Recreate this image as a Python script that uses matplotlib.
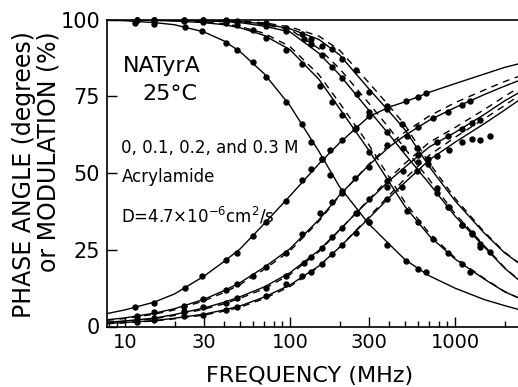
import numpy as np
import matplotlib
matplotlib.use("Agg")
import matplotlib.pyplot as plt

# ---- data ----
# frequency grid (MHz) for the fitted curves
f_curve = [7.8, 10, 15, 20, 30, 40, 50, 70, 100, 150, 200, 300, 400, 500, 700, 1000, 1500, 2000, 2410]

# phase (degrees) – solid fits
P0 = [4.2, 5.4, 7.9, 10.6, 16.3, 21.2, 25.3, 33.5, 42.5, 53.0, 59.8, 68.3, 71.5, 73.2, 76.3, 79.1, 82.2, 84.4, 85.5]
P1 = [2.2, 2.8, 4.3, 5.8, 8.8, 11.7, 14.3, 19.3, 25.3, 34.8, 42.8, 52.5, 58.5, 62.3, 67.2, 71.3, 75.5, 78.3, 80.0]
P2 = [1.4, 1.8, 2.7, 3.9, 6.0, 7.9, 9.7, 12.9, 17.5, 24.8, 31.5, 41.0, 47.5, 52.0, 58.5, 63.2, 69.0, 73.5, 76.0]
P3 = [1.0, 1.3, 1.9, 2.7, 4.0, 5.4, 6.7, 9.6, 13.5, 19.7, 25.8, 35.2, 42.0, 47.0, 54.3, 60.0, 66.0, 70.5, 73.5]
# phase – dashed fits
P1d = [2.0, 2.6, 4.0, 5.4, 8.3, 11.1, 13.7, 18.6, 24.6, 34.3, 42.6, 52.8, 59.3, 63.4, 68.6, 72.9, 77.0, 79.8, 81.4]
P2d = [1.3, 1.7, 2.5, 3.6, 5.6, 7.4, 9.2, 12.3, 16.9, 24.4, 31.4, 41.3, 48.3, 53.2, 60.0, 64.8, 70.6, 75.0, 77.6]
P3d = [0.9, 1.2, 1.8, 2.5, 3.7, 5.0, 6.3, 9.1, 13.0, 19.4, 25.8, 35.6, 42.8, 48.2, 55.8, 61.6, 67.6, 72.0, 75.0]

# modulation (%) – solid fits
M0 = [99.8, 99.6, 99.0, 98.3, 96.0, 93.0, 89.5, 82.3, 72.0, 57.0, 45.5, 33.5, 26.8, 21.7, 16.5, 12.5, 8.8, 6.8, 5.6]
M1 = [99.9, 99.9, 99.7, 99.5, 99.0, 98.3, 97.3, 94.8, 90.2, 80.5, 71.0, 57.5, 47.0, 39.0, 29.5, 22.0, 15.5, 11.3, 9.4]
M2 = [100, 100, 99.9, 99.8, 99.6, 99.3, 99.0, 97.8, 96.0, 89.0, 82.0, 70.5, 62.5, 56.0, 46.5, 36.0, 26.0, 19.0, 15.3]
M3 = [100, 100, 100, 99.9, 99.8, 99.6, 99.3, 98.6, 97.0, 93.5, 88.5, 77.5, 70.0, 64.0, 52.0, 41.0, 30.5, 24.0, 20.8]
# modulation – dashed fits
M1d = [99.9, 99.9, 99.8, 99.6, 99.2, 98.6, 97.7, 95.5, 91.2, 82.0, 72.8, 59.3, 48.6, 40.3, 30.3, 22.4, 15.7, 11.4, 9.4]
M2d = [100, 100, 99.9, 99.9, 99.7, 99.5, 99.2, 98.3, 96.8, 90.5, 84.0, 72.8, 64.6, 57.8, 47.8, 36.8, 26.4, 19.2, 15.4]
M3d = [100, 100, 100, 99.9, 99.9, 99.7, 99.5, 98.9, 97.6, 94.6, 90.0, 79.5, 71.8, 65.5, 53.2, 41.8, 30.9, 24.2, 20.9]

# measured points
f_s0 = [11.5, 15, 23, 29.5, 41, 48, 60, 72, 95, 118, 134, 156, 176, 207, 250, 300, 390, 508, 596, 670]
p_s0 = [6.2, 7.8, 12.4, 16.6, 21.5, 24.1, 29.6, 34.2, 41.0, 47.6, 51.3, 54.4, 57.6, 60.6, 64.8, 68.7, 71.0, 73.3, 74.6, 75.9]
m_s0 = [99.0, 98.4, 97.4, 96.1, 92.2, 90.2, 86.3, 81.4, 73.0, 65.8, 60.0, 54.4, 49.5, 43.6, 37.1, 33.9, 26.7, 21.2, 18.6, 17.9]

f_s1 = [11.8, 15, 22.7, 29.7, 41, 48, 60, 72, 95, 118, 152, 179, 207, 247, 303, 386, 510, 596, 737, 906, 1100, 1240]
p_s1 = [3.3, 4.6, 6.8, 9.1, 12.0, 14.0, 16.5, 19.5, 24.1, 30.0, 37.1, 40.7, 44.0, 48.5, 52.1, 59.0, 62.0, 65.0, 68.0, 70.0, 72.3, 73.3]
m_s1 = [99.9, 99.8, 99.6, 99.3, 98.8, 98.3, 96.5, 94.0, 90.2, 85.5, 78.2, 73.0, 69.0, 64.2, 57.0, 47.5, 37.5, 33.9, 28.5, 24.0, 20.2, 17.6]

f_s2 = [11.8, 15, 22.7, 29.7, 41, 48, 72, 95, 122, 135, 156, 179, 207, 254, 303, 386, 485, 596, 776, 906, 1100, 1260, 1410]
p_s2 = [2.3, 2.9, 4.9, 6.5, 7.8, 9.4, 12.7, 16.6, 20.8, 22.8, 25.7, 29.3, 32.2, 37.1, 41.4, 45.3, 50.5, 56.0, 60.0, 62.0, 64.2, 66.4, 67.4]
m_s2 = [100, 100, 99.9, 99.8, 99.5, 99.2, 98.0, 96.3, 93.5, 91.9, 88.5, 84.5, 81.1, 75.6, 70.0, 63.5, 58.3, 53.7, 45.0, 39.0, 33.0, 30.0, 27.0]

f_s3 = [11.8, 15, 22.7, 29.7, 41, 48, 72, 95, 118, 135, 156, 180, 208, 250, 303, 385, 480, 586, 686, 776, 925, 1100, 1260, 1410, 1640]
p_s3 = [1.6, 2.0, 3.3, 3.9, 5.4, 6.5, 9.8, 13.7, 16.3, 17.9, 20.2, 23.5, 26.7, 30.6, 34.2, 41.4, 45.5, 50.5, 54.7, 55.5, 57.6, 60.0, 61.0, 60.6, 62.0]
m_s3 = [100, 100, 100, 99.9, 99.7, 99.5, 98.8, 97.3, 95.2, 93.5, 91.5, 90.5, 87.0, 83.7, 76.5, 71.7, 65.8, 58.3, 52.8, 43.6, 39.0, 33.2, 30.6, 26.0, 24.4]

x_ticks = [10, 30, 100, 300, 1000]
x_ticklabels = ["10", "30", "100", "300", "1000"]
y_ticks = [0, 25, 50, 75, 100]

# ---- figure ----
plt.rcParams['font.family'] = ['DejaVu Sans']
fig = plt.figure(figsize=(5.18, 3.87), dpi=100)
ax = fig.add_axes([107/518, 1 - 326.5/387, 1 - 107/518, (326.5 - 19.5)/387])

lw = 1.0
for y in (P0, P1, P2, P3, M0, M1, M2, M3):
    ax.plot(f_curve, y, color='black', lw=lw, solid_capstyle='round')
for y in (P1d, P2d, P3d, M1d, M2d, M3d):
    ax.plot(f_curve, y, color='black', lw=lw, ls=(0, (5, 4)))

for fs, ps, ms in ((f_s0, p_s0, m_s0), (f_s1, p_s1, m_s1), (f_s2, p_s2, m_s2), (f_s3, p_s3, m_s3)):
    ax.plot(fs, ps, 'o', color='black', ms=4.6, mew=0, clip_on=False)
    ax.plot(fs, ms, 'o', color='black', ms=4.6, mew=0, clip_on=False)

ax.set_xscale('log')
ax.set_xlim(7.8, 2410)
ax.set_ylim(0, 100)
ax.set_xticks(x_ticks)
ax.set_xticklabels(x_ticklabels)
ax.set_yticks(y_ticks)
ax.set_yticklabels([str(v) for v in y_ticks])
ax.xaxis.set_minor_locator(matplotlib.ticker.LogLocator(base=10, subs=np.arange(2, 10)))
ax.xaxis.set_minor_formatter(matplotlib.ticker.NullFormatter())
ax.tick_params(axis='x', which='major', direction='in', length=7, width=1, labelsize=14, pad=5)
ax.tick_params(axis='x', which='minor', direction='in', length=4, width=1)
ax.tick_params(axis='y', which='major', direction='in', length=7, width=1, labelsize=15, pad=5)
ax.spines['right'].set_visible(False)
for s in ('left', 'bottom', 'top'):
    ax.spines[s].set_linewidth(1.2)

fig.text(310/518, 1 - 376/387, "FREQUENCY (MHz)", fontsize=16, ha='center', va='center')
fig.text(36.5/518, 1 - 31/387, "PHASE ANGLE (degrees)\nor MODULATION (%)", rotation=90,
         ha='center', va='top', multialignment='right', fontsize=17, linespacing=1.0)

ax.text(123/518, 1 - 66/387, "NATyrA", transform=fig.transFigure, fontsize=16, ha='left', va='center')
ax.text(142/518, 1 - 94/387, "25°C", transform=fig.transFigure, fontsize=16, ha='left', va='center')
ax.text(121/518, 1 - 148/387, "0, 0.1, 0.2, and 0.3 M", transform=fig.transFigure, fontsize=12, ha='left', va='center')
ax.text(122/518, 1 - 177/387, "Acrylamide", transform=fig.transFigure, fontsize=12, ha='left', va='center')
ax.text(121/518, 1 - 216/387, r"D=4.7$\times$10$^{-6}$cm$^2$/s", transform=fig.transFigure, fontsize=12, ha='left', va='center')

fig.savefig("out.png", dpi=100)
